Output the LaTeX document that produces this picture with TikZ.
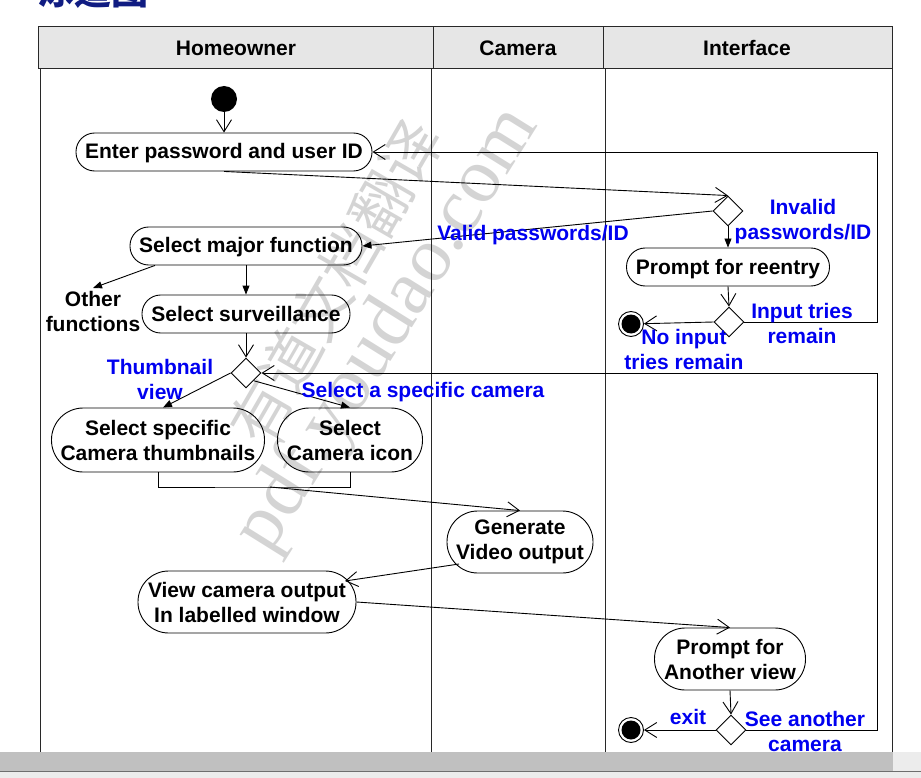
\documentclass[tikz,border=0pt]{standalone}
\usepackage{fontspec}
\setmainfont{Liberation Sans}
\newfontfamily\cjkfont{Noto Sans CJK SC}
\newfontfamily\wmserif{Liberation Serif}
\usetikzlibrary{shapes.geometric,arrows.meta,calc}
\definecolor{hdr}{RGB}{230,230,230}
\definecolor{lbl}{RGB}{0,0,240}
\definecolor{ttl}{RGB}{16,28,130}
\definecolor{wm}{RGB}{212,212,212}
\definecolor{barc}{RGB}{192,192,192}
\definecolor{barl}{RGB}{236,236,236}
\tikzset{
  txt/.style={font=\fontsize{21}{25}\selectfont\bfseries, inner sep=0pt, align=center},
  act/.style n args={2}{txt, draw, rectangle, line width=0.9pt, minimum width=#1pt, minimum height=#2pt, rounded corners=#2pt/2-0.3pt},
  oneline/.style={text height=15pt, text depth=1pt},
  lab/.style={txt, text=lbl},
  dec/.style={draw, diamond, line width=0.9pt, minimum width=30pt, minimum height=30pt, inner sep=0pt},
  open/.style={line width=0.9pt, -{Straight Barb[length=12pt,width=15pt]}},
  fill arr/.style={line width=0.9pt, -{Triangle[length=9pt,width=7pt]}},
  lane/.style={line width=1pt, draw={rgb,255:red,40;green,40;blue,40}},
}
\begin{document}
\begin{tikzpicture}[x=1pt,y=-1pt]
\useasboundingbox (0,0) rectangle (921,778);
% title (cut at the top)
\node[anchor=base west, inner sep=0pt, text=ttl, font=\cjkfont\bfseries\fontsize{37}{37}\selectfont] (title) at (37,5) {泳道图};
% watermark
\node[text=wm, rotate=58, inner sep=0pt, font=\wmserif\fontsize{78}{78}\selectfont] (wm1) at (388,330) {pdf.youdao.com};
\node[text=wm, rotate=60, inner sep=0pt, font=\cjkfont\fontsize{60}{60}\selectfont] (wm2) at (336,282) {有道文档翻译};
% swimlanes
\draw[lane, fill=hdr] (38,27) rectangle (892,69);
\draw[lane] (433,27) -- (433,69);
\draw[lane] (603,27) -- (603,69);
\draw[lane] (40,69) -- (40,752);
\draw[lane] (431,69) -- (431,752);
\draw[lane] (605,69) -- (605,752);
\draw[lane] (892,69) -- (892,752);
\node[txt] (h1) at (236,48) {Homeowner};
\node[txt] (h2) at (518,48) {Camera};
\node[txt] (h3) at (747,48) {Interface};
% nodes
\node[circle, fill=black, minimum size=26pt, inner sep=0pt] (start) at (224,99) {};
\node[act={296}{38}, oneline] (enter) at (224,152) {Enter password and user ID};
\node[dec] (d1) at (728,211) {};
\node[act={232}{38}, oneline] (major) at (246,246) {Select major function};
\node[act={203}{38}, oneline] (reentry) at (728,267) {Prompt for reentry};
\node[dec] (d2) at (729,322) {};
\node[circle, draw, line width=0.9pt, minimum size=25pt, inner sep=0pt] (end1) at (631,324) {};
\node[circle, fill=black, minimum size=19pt, inner sep=0pt] (end1i) at (631,324) {};
\node[txt] (other) at (93,311) {Other\\functions};
\coordinate (oth) at (93,288);
\node[act={208}{38}, oneline] (surv) at (246,314) {Select surveillance};
\node[dec] (d3) at (246,373) {};
\node[act={213}{64}] (thumb) at (158,440) {Select specific\\Camera thumbnails};
\node[act={145}{64}] (icon) at (350,440) {Select\\Camera icon};
\coordinate (jc) at (270,487);
\node[act={146}{62}] (gen) at (520,542) {Generate\\Video output};
\node[act={218}{62}] (view) at (247,602) {View camera output\\In labelled window};
\node[act={151}{62}] (another) at (730,659) {Prompt for\\Another view};
\node[dec] (d4) at (731,730) {};
\node[circle, draw, line width=0.9pt, minimum size=25pt, inner sep=0pt] (end2) at (631,730) {};
\node[circle, fill=black, minimum size=19pt, inner sep=0pt] (end2i) at (631,730) {};
\coordinate (c1) at (877,322);
\coordinate (c3) at (877,730);
% connectors
\draw[open] (start) -- (enter.north);
\draw[open] (enter.south) -- (d1.north);
\draw[open] (d2.east) -- (c1) |- (enter.east);
\draw[fill arr] (d1.west) -- (major.east);
\draw[fill arr] (d1.south) -- (reentry.north);
\draw[open] (reentry.south) -- (d2.north);
\draw[open] (d2.west) -- (end1);
\draw[fill arr] ([xshift=-91pt]major.south) -- (oth);
\draw[fill arr] (major.south) -- (surv.north);
\draw[open] (surv.south) -- (d3.north);
\draw[open] (d4.east) -- (c3) |- (d3.east);
\draw[fill arr] (d3.west) -- ([xshift=5pt]thumb.north);
\draw[fill arr] (d3.south east) -- (icon.north);
\draw[line width=0.9pt] (thumb.south) |- (jc) -| (icon.south);
\draw[open] (jc) -- (gen.north);
\draw[open] ([shift={(-61,22)}]gen.center) -- ([shift={(98,-21)}]view.center);
\draw[open] (view.east) -- (another.north);
\draw[open] (another.south) -- (d4.north);
\draw[open] (d4.west) -- (end2);
% labels
\node[lab] (lvalid) at (533,235) {Valid passwords/ID};
\node[lab] (linv) at (803,222) {Invalid\\passwords/ID};
\node[lab] (ltries) at (802,323) {Input tries\\remain};
\node[lab] (lnot) at (684,349) {No input\\tries remain};
\node[lab] (lthumb) at (160,379) {Thumbnail\\view};
\node[lab] (lsel) at (423,392) {Select a specific camera};
\node[lab] (lexit) at (688,717) {exit};
\node[lab] (lsee) at (805,731) {See another\\camera};
% bottom bar
\fill[barc] (0,752) rectangle (893,771);
\fill[barl] (893,752) rectangle (921,771);
\fill[barl] (0,771) rectangle (921,778);
\draw[line width=1pt, draw={rgb,255:red,110;green,110;blue,110}] (0,771) -- (921,771);
\end{tikzpicture}
\end{document}
